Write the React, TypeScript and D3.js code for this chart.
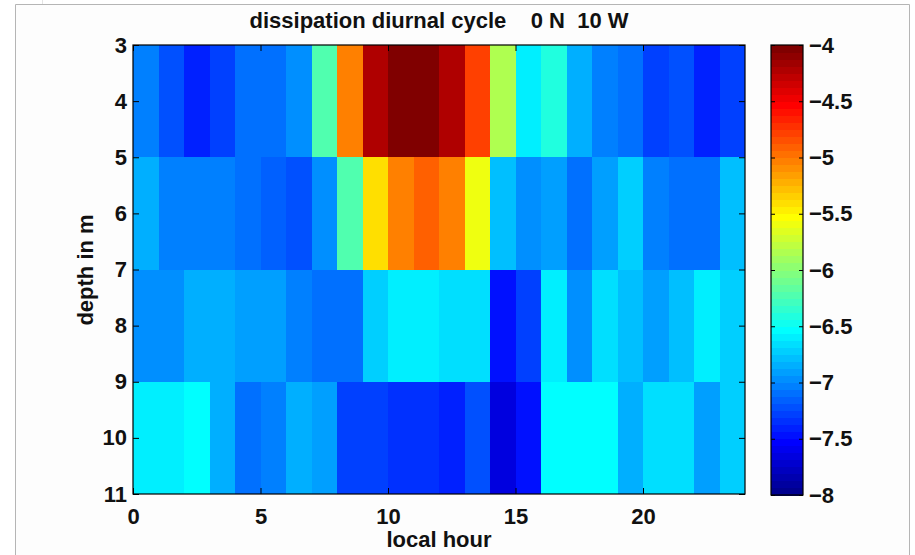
import React, { useEffect, useRef } from 'react'
import * as d3 from 'd3'

// local hour of each column (column spans hour .. hour+1)
const hours = [0, 1, 2, 3, 4, 5, 6, 7, 8, 9, 10, 11, 12, 13, 14, 15, 16, 17, 18, 19, 20, 21, 22, 23]
// depth bin edges in m
const depthEdges = [3, 5, 7, 9, 11]

// log10 dissipation per depth bin
const depth3to5 = [-7.03, -7.22, -7.41, -7.28, -7.12, -7.09, -6.97, -6.2, -5.03, -4.22, -4.02, -4.02,
  -4.22, -4.78, -5.84, -6.6, -6.4, -6.84, -7.03, -7.09, -7.28, -7.22, -7.41, -7.28]
const depth5to7 = [-6.84, -7.03, -7.06, -7.03, -7.09, -7.16, -7.22, -6.97, -6.2, -5.4, -5.06, -4.9,
  -5.06, -5.59, -6.78, -6.97, -6.9, -7.09, -6.9, -6.75, -7.03, -7.09, -7.09, -6.78]
const depth7to9 = [-6.97, -6.97, -6.84, -6.84, -6.9, -6.93, -7.03, -7.12, -7.12, -6.73, -6.6, -6.6,
  -6.68, -6.65, -7.47, -7.28, -6.62, -6.97, -6.65, -6.78, -6.9, -6.78, -6.59, -6.75]
const depth9to11 = [-6.6, -6.6, -6.52, -6.87, -7.12, -7.06, -6.87, -6.93, -7.28, -7.28, -7.34, -7.34,
  -7.4, -7.25, -7.68, -7.47, -6.52, -6.52, -6.52, -6.87, -6.66, -6.66, -6.93, -6.73]

const xTicks = [0, 5, 10, 15, 20]
const yTicks = [3, 4, 5, 6, 7, 8, 9, 10, 11]
const cbarTicks = [-8, -7.5, -7, -6.5, -6, -5.5, -5, -4.5, -4]

const FONT = '"Liberation Sans", Arial, Helvetica, sans-serif'

// matlab style jet(64)
const jet = (t: number) => {
  const c = (v: number) => Math.round(255 * Math.max(0, Math.min(1, v)))
  return `rgb(${c(1.5 - Math.abs(4 * t - 3))},${c(1.5 - Math.abs(4 * t - 2))},${c(1.5 - Math.abs(4 * t - 1))})`
}

export default function App() {
  const ref = useRef<SVGSVGElement>(null)

  useEffect(() => {
    const svg = d3.select(ref.current)
    svg.selectAll('*').remove()

    const rows = [depth3to5, depth5to7, depth7to9, depth9to11]
    const jet64 = d3.range(1, 65).map(k => jet(k / 64))
    const color = d3.scaleQuantize<string>().domain([-8, -4]).range(jet64)

    const x = d3.scaleLinear().domain([0, 24]).range([133, 745])
    const y = d3.scaleLinear().domain([3, 11]).range([45, 494])
    const cy = d3.scaleLinear().domain([-8, -4]).range([495, 45])
    const cbX = 771, cbW = 32

    // page frame
    svg.append('path')
      .attr('d', 'M15.5,555V4.5H909.5V555')
      .attr('fill', '#fdfdfd').attr('stroke', '#b5b5b5')
    svg.append('line').attr('x1', 42.5).attr('x2', 42.5).attr('y1', 0).attr('y2', 4)
      .attr('stroke', '#e4e4e4')

    // heatmap cells
    const cells = svg.append('g').attr('shape-rendering', 'crispEdges')
    rows.forEach((vals, r) => {
      cells.selectAll(null)
        .data(vals)
        .enter()
        .append('rect')
        .attr('x', (d, i) => x(hours[i]))
        .attr('width', (d, i) => x(hours[i] + 1) - x(hours[i]))
        .attr('y', y(depthEdges[r]))
        .attr('height', y(depthEdges[r + 1]) - y(depthEdges[r]))
        .attr('fill', d => color(d))
    })

    const styleAxis = (g: any) => {
      g.attr('font-family', FONT).attr('font-size', 22).attr('font-weight', 'bold')
      g.select('.domain').remove()
      g.selectAll('line').attr('stroke', '#000')
      g.selectAll('text').attr('fill', '#111')
    }

    svg.append('g').attr('transform', 'translate(133,0)')
      .call(d3.axisLeft(y).tickValues(yTicks).tickSize(-6).tickPadding(6))
      .call(styleAxis)
    svg.append('g').attr('transform', 'translate(745,0)')
      .call(d3.axisRight(y).tickValues(yTicks).tickSize(-6).tickFormat(() => ''))
      .call(styleAxis)
    svg.append('g').attr('transform', 'translate(0,494)')
      .call(d3.axisBottom(x).tickValues(xTicks).tickSize(-6).tickPadding(14))
      .call(styleAxis)
    svg.append('g').attr('transform', 'translate(0,45)')
      .call(d3.axisTop(x).tickValues(xTicks).tickSize(-6).tickFormat(() => ''))
      .call(styleAxis)

    svg.append('rect')
      .attr('x', 133).attr('y', 45).attr('width', 745 - 133).attr('height', 494 - 45)
      .attr('fill', 'none').attr('stroke', '#000').attr('stroke-width', 1.2)

    // colorbar
    const cb = svg.append('g').attr('shape-rendering', 'crispEdges')
    cb.selectAll('rect')
      .data(jet64)
      .enter()
      .append('rect')
      .attr('x', cbX)
      .attr('width', cbW)
      .attr('y', d => cy(color.invertExtent(d)[1]))
      .attr('height', d => cy(color.invertExtent(d)[0]) - cy(color.invertExtent(d)[1]) + 0.5)
      .attr('fill', d => d)

    svg.append('g').attr('transform', `translate(${cbX + cbW},0)`)
      .call(d3.axisRight(cy).tickValues(cbarTicks).tickSize(-4).tickPadding(6)
        .tickFormat(d => String(d).replace('-', '\u2212')))
      .call(styleAxis)
    svg.append('g').attr('transform', `translate(${cbX},0)`)
      .call(d3.axisLeft(cy).tickValues(cbarTicks).tickSize(-4).tickFormat(() => ''))
      .call(styleAxis)
    svg.append('rect')
      .attr('x', cbX).attr('y', 45).attr('width', cbW).attr('height', 450)
      .attr('fill', 'none').attr('stroke', '#000').attr('stroke-width', 1.2)

    // titles
    const label = (txt: string) => svg.append('text')
      .attr('font-family', FONT).attr('font-size', 22).attr('font-weight', 'bold')
      .attr('fill', '#111').attr('text-anchor', 'middle')
      .style('white-space', 'pre')
      .text(txt)

    label('dissipation diurnal cycle    0 N  10 W').attr('x', 439).attr('y', 28)
    label('local hour').attr('x', 439).attr('y', 547)
    label('depth in m').attr('transform', 'translate(93,270) rotate(-90)')
  }, [])

  return (
    <svg ref={ref} width={915} height={555}
      style={{ position: 'absolute', left: 0, top: 0, background: '#fff' }} />
  )
}
